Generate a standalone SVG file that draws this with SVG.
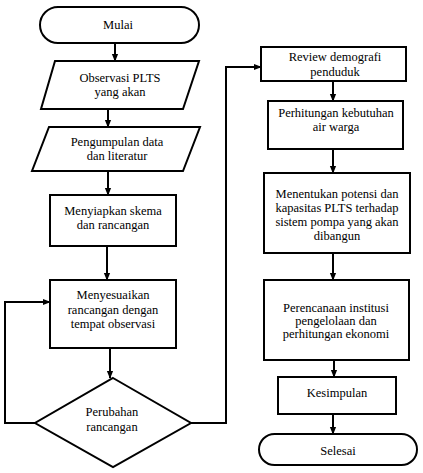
<svg xmlns="http://www.w3.org/2000/svg" width="423" height="473" viewBox="0 0 423 473">
<style>
.s{fill:#fff;stroke:#000;stroke-width:2}
.t{font-family:'Liberation Serif','Times New Roman',serif;font-size:12.5px;fill:#000;text-anchor:middle}
.c{fill:none;stroke:#000;stroke-width:2}
</style>
<defs>
<marker id="a" viewBox="0 0 10 10" refX="9" refY="5" markerWidth="4" markerHeight="4" orient="auto" markerUnits="strokeWidth">
<path d="M0,1 L10,5 L0,9 z" fill="#000"/>
</marker>
</defs>
<rect width="423" height="473" fill="#fff"/>
<g id="connectors">
<path class="c" d="M115,43 V61" marker-end="url(#a)"/>
<path class="c" d="M108,109 V127" marker-end="url(#a)"/>
<path class="c" d="M108,171 V195" marker-end="url(#a)"/>
<path class="c" d="M107,246 V280" marker-end="url(#a)"/>
<path class="c" d="M110,348 V378" marker-end="url(#a)"/>
<path class="c" d="M35,423 H5 V302 H50" marker-end="url(#a)"/>
<path class="c" d="M191,423 H226 V67 H261" marker-end="url(#a)"/>
<path class="c" d="M333,81 V101" marker-end="url(#a)"/>
<path class="c" d="M333,149 V173" marker-end="url(#a)"/>
<path class="c" d="M333,253 V280" marker-end="url(#a)"/>
<path class="c" d="M334,360 V377" marker-end="url(#a)"/>
<path class="c" d="M333,414 V434" marker-end="url(#a)"/>
</g>
<g id="mulai">
<rect class="s" x="40" y="7" width="159" height="36" rx="18"/>
<text class="t" x="118" y="29">Mulai</text>
</g>
<g id="observasi">
<polygon class="s" points="55,61 199,61 183,109 41,109"/>
<text class="t" x="120" y="82">Observasi PLTS</text>
<text class="t" x="120" y="96">yang akan</text>
</g>
<g id="pengumpulan">
<polygon class="s" points="49,127 200,127 183,171 32,171"/>
<text class="t" x="117" y="146">Pengumpulan data</text>
<text class="t" x="117" y="160">dan literatur</text>
</g>
<g id="menyiapkan">
<rect class="s" x="50" y="195" width="126" height="51"/>
<text class="t" x="113" y="215">Menyiapkan skema</text>
<text class="t" x="113" y="229">dan rancangan</text>
</g>
<g id="menyesuaikan">
<rect class="s" x="50" y="280" width="126" height="68"/>
<text class="t" x="113" y="299">Menyesuaikan</text>
<text class="t" x="113" y="314">rancangan dengan</text>
<text class="t" x="113" y="328">tempat observasi</text>
</g>
<g id="perubahan">
<polygon class="s" points="113,378 191,423 113,467 35,423"/>
<text class="t" x="112" y="416">Perubahan</text>
<text class="t" x="112" y="431">rancangan</text>
</g>
<g id="review">
<rect class="s" x="261" y="47" width="145" height="34"/>
<text class="t" x="335" y="61">Review demografi</text>
<text class="t" x="335" y="76">penduduk</text>
</g>
<g id="perhitungan">
<rect class="s" x="268" y="101" width="135" height="48"/>
<text class="t" x="336" y="117">Perhitungan kebutuhan</text>
<text class="t" x="336" y="131">air warga</text>
</g>
<g id="menentukan">
<rect class="s" x="264" y="173" width="146" height="80"/>
<text class="t" x="337" y="198">Menentukan potensi dan</text>
<text class="t" x="337" y="212">kapasitas PLTS terhadap</text>
<text class="t" x="337" y="226">sistem pompa yang akan</text>
<text class="t" x="337" y="240">dibangun</text>
</g>
<g id="perencanaan">
<rect class="s" x="264" y="280" width="145" height="80"/>
<text class="t" x="336" y="312">Perencanaan institusi</text>
<text class="t" x="336" y="325">pengelolaan dan</text>
<text class="t" x="336" y="338">perhitungan ekonomi</text>
</g>
<g id="kesimpulan">
<rect class="s" x="278" y="377" width="118" height="37"/>
<text class="t" x="337" y="397">Kesimpulan</text>
</g>
<g id="selesai">
<rect class="s" x="259" y="434" width="158" height="31" rx="15.5"/>
<text class="t" x="338" y="455">Selesai</text>
</g>
</svg>
